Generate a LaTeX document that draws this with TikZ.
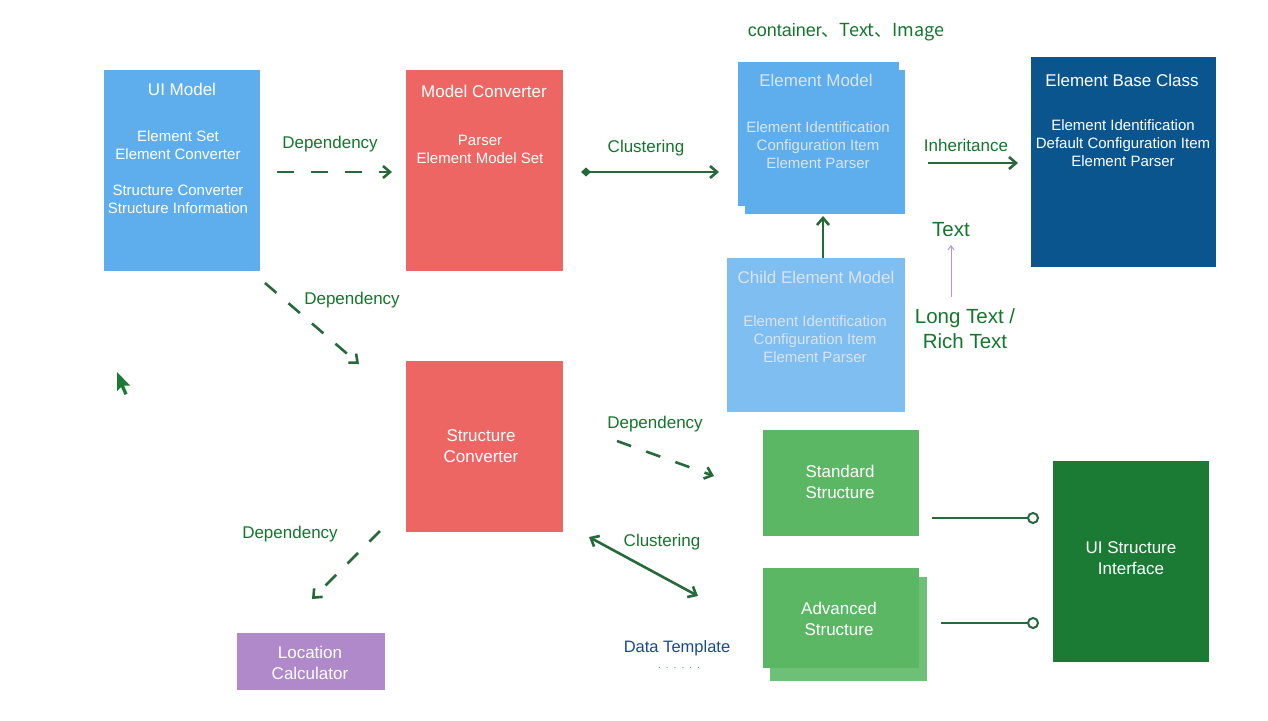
\documentclass[tikz,border=0pt]{standalone}
\usepackage{fontspec}
\setmainfont{Liberation Sans}
\newfontfamily\cjk{Noto Sans CJK SC}
\usetikzlibrary{arrows.meta}
\definecolor{lblue}{RGB}{94,174,238}
\definecolor{cblue}{RGB}{126,190,240}
\definecolor{lred}{RGB}{237,102,99}
\definecolor{dblue}{RGB}{11,85,143}
\definecolor{lgreen}{RGB}{92,183,101}
\definecolor{lgreensh}{RGB}{110,192,118}
\definecolor{dgreen}{RGB}{27,123,52}
\definecolor{lpurple}{RGB}{176,137,202}
\definecolor{lblgreen}{RGB}{22,118,45}
\definecolor{conncol}{RGB}{40,105,60}
\definecolor{thinpurple}{RGB}{175,150,220}
\definecolor{tmplblue}{RGB}{25,75,140}
\definecolor{emtext}{RGB}{218,228,240}
\tikzset{
  box/.style={rectangle, inner sep=0pt, draw=none},
  ttl/.style={text=white, font=\fontsize{17}{20}\selectfont, inner sep=0pt},
  bodytxt/.style={text=white, font=\fontsize{15}{18}\selectfont, align=center, inner sep=0pt},
  bigtxt/.style={text=white, font=\fontsize{17}{21}\selectfont, align=center, inner sep=0pt},
  lbl/.style={text=lblgreen, font=\fontsize{17}{20}\selectfont, inner sep=0pt},
  conn/.style={draw=conncol, line width=2.6pt},
  deparrow/.style={conn, dash pattern=on 17pt off 17pt, -{Straight Barb[length=7pt,width=12pt]}},
  solidarrow/.style={conn, -{Straight Barb[length=7pt,width=12pt]}},
  cluarrow/.style={conn, {Diamond[length=10pt,width=9pt]}-{Straight Barb[length=7pt,width=12pt]}},
  cluboth/.style={conn, {Straight Barb[length=7pt,width=12pt]}-{Straight Barb[length=7pt,width=12pt]}},
  thinarrow/.style={draw=thinpurple, line width=1pt, -{Straight Barb[length=4pt,width=6pt]}},
  lollipop/.style={conn, line width=2.2pt, -{Circle[length=12pt,fill=white,line width=2pt]}}
}
\begin{document}
\begin{tikzpicture}[x=1pt,y=-1pt]
\fill[white] (0,0) rectangle (1268,720);
\useasboundingbox (0,0) rectangle (1268,720);

% boxes
\node[box, fill=lblue, minimum width=156pt, minimum height=201pt] (ui) at (182,170.5) {};
\node[box, fill=lred, minimum width=157pt, minimum height=201pt] (mc) at (484.5,170.5) {};
\node[box, fill=lblue, minimum width=160pt, minimum height=144pt] (emsh) at (825,142) {};
\node[box, fill=lblue, minimum width=161pt, minimum height=144pt] (em) at (818.5,134) {};
\node[box, fill=dblue, minimum width=185pt, minimum height=210pt] (ebc) at (1123.5,162) {};
\node[box, fill=cblue, minimum width=178pt, minimum height=154pt] (child) at (816,335) {};
\node[box, fill=lred, minimum width=157pt, minimum height=171pt] (sc) at (484.5,446.5) {};
\node[box, fill=lpurple, minimum width=148pt, minimum height=57pt] (lc) at (311,661.5) {};
\node[box, fill=lgreen, minimum width=156pt, minimum height=106pt] (std) at (841,483) {};
\node[box, fill=lgreensh, minimum width=157pt, minimum height=104pt] (advsh) at (848.5,629) {};
\node[box, fill=lgreen, minimum width=156pt, minimum height=100pt] (adv) at (841,618) {};
\node[box, fill=dgreen, minimum width=156pt, minimum height=201pt] (uis) at (1131,561.5) {};

% box texts
\node[ttl] (uit) at (182,89) {UI Model};
\node[bodytxt] (uib) at (178,172) {Element Set\\Element Converter\\[18pt]Structure Converter\\Structure Information};
\node[ttl] (mct) at (484,91) {Model Converter};
\node[bodytxt] (mcb) at (480,149) {Parser\\Element Model Set};
\node[ttl, text=emtext] (emt) at (816,80) {Element Model};
\node[bodytxt, text=emtext] (emb) at (818,145) {Element Identification\\Configuration Item\\Element Parser};
\node[ttl] (ebct) at (1122,80) {Element Base Class};
\node[bodytxt] (ebcb) at (1123,143) {Element Identification\\Default Configuration Item\\Element Parser};
\node[ttl, text=emtext] (childt) at (816,277) {Child Element Model};
\node[bodytxt, text=emtext] (childb) at (815,339) {Element Identification\\Configuration Item\\Element Parser};
\node[bigtxt] (sct) at (481,446.5) {Structure\\Converter};
\node[bigtxt] (lct) at (310,662.5) {Location\\Calculator};
\node[bigtxt] (stdt) at (840,481.5) {Standard\\Structure};
\node[bigtxt] (advt) at (839,618.5) {Advanced\\Structure};
\node[bigtxt] (uist) at (1131,558.5) {UI Structure\\Interface};

% free labels
\node[lbl] (l1) at (330,144) {Dependency};
\node[lbl] (l2) at (646,148) {Clustering};
\node[lbl, font=\fontsize{18}{20}\selectfont] (l3) at (846,32) {container\cjk{、}Text\cjk{、}Image};
\node[lbl] (l4) at (966,145) {Inheritance};
\node[lbl, font=\fontsize{20.5}{25}\selectfont] (l5) at (951,230) {Text};
\node[lbl, font=\fontsize{20.5}{25}\selectfont, align=center] (l6) at (965,328.5) {Long Text /\\Rich Text};
\node[lbl] (l7) at (352,300) {Dependency};
\node[lbl] (l8) at (655,424) {Dependency};
\node[lbl] (l9) at (290,534) {Dependency};
\node[lbl] (l10) at (662,542) {Clustering};
\node[lbl, text=tmplblue, font=\fontsize{16.5}{20}\selectfont] (l11) at (677,648) {Data Template};
\node[text=tmplblue!70, font=\fontsize{10}{12}\selectfont, inner sep=0pt] (l12) at (679,668) {.\kern5pt.\kern5pt.\kern5pt.\kern5pt.\kern5pt.};

% connector end points
\coordinate (d1a) at (277,172); \coordinate (d1b) at (392,172);
\coordinate (c1a) at (581,172); \coordinate (c1b) at (719,172);
\coordinate (i1a) at (928,163); \coordinate (i1b) at (1018,163);
\coordinate (u1a) at (823,258); \coordinate (u1b) at (823,216);
\coordinate (t1a) at (951,297); \coordinate (t1b) at (951,245);
\coordinate (d2a) at (265,283); \coordinate (d2b) at (359,364);
\coordinate (d3a) at (617,441); \coordinate (d3b) at (714,476);
\coordinate (d4a) at (380,531); \coordinate (d4b) at (312,599);
\coordinate (c2a) at (589,537); \coordinate (c2b) at (698,596);
\coordinate (p1a) at (932,518); \coordinate (p1b) at (1039,518);
\coordinate (p2a) at (941,623); \coordinate (p2b) at (1039,623);

% connectors
\draw[deparrow] (d1a) -- (d1b);
\draw[cluarrow] (c1a) -- (c1b);
\draw[solidarrow] (i1a) -- (i1b);
\draw[solidarrow] (u1a) -- (u1b);
\draw[thinarrow] (t1a) -- (t1b);
\draw[deparrow, dash pattern=on 15pt off 16pt] (d2a) -- (d2b);
\draw[deparrow, dash pattern=on 15pt off 16pt] (d3a) -- (d3b);
\draw[deparrow, dash pattern=on 15pt off 16pt] (d4a) -- (d4b);
\draw[cluboth] (c2a) -- (c2b);
\draw[lollipop] (p1a) -- (p1b);
\draw[lollipop] (p2a) -- (p2b);

% mouse cursor
\fill[dgreen] (117,372) -- (117,391) -- (121,387) -- (124.5,395) -- (127.5,393.5) -- (124,385.5) -- (130,385.5) -- cycle;
\end{tikzpicture}
\end{document}
